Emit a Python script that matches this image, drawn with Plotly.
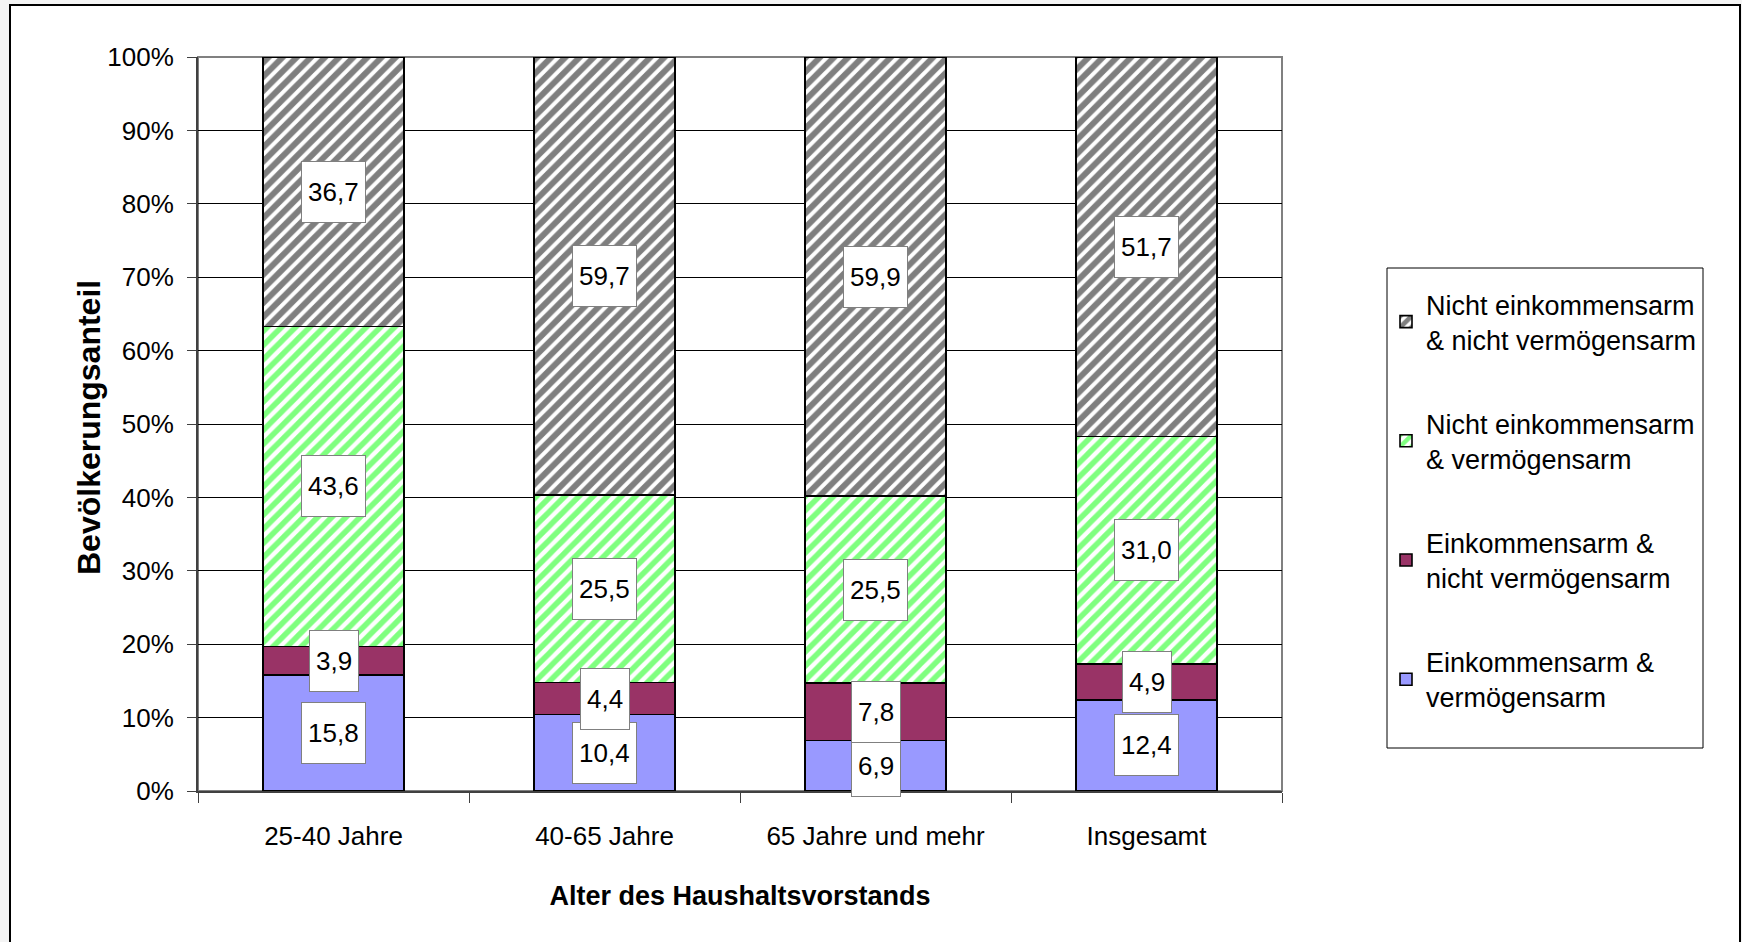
import plotly.graph_objects as go

# ---------------- data ----------------
categories = ["25-40 Jahre", "40-65 Jahre", "65 Jahre und mehr", "Insgesamt"]
ek_vk = [15.8, 10.4, 6.9, 12.4]       # Einkommensarm & vermögensarm
ek_nvk = [3.9, 4.4, 7.8, 4.9]         # Einkommensarm & nicht vermögensarm
nek_vk = [43.6, 25.5, 25.5, 31.0]     # Nicht einkommensarm & vermögensarm
nek_nvk = [36.7, 59.7, 59.9, 51.7]    # Nicht einkommensarm & nicht vermögensarm
series_names = [
    "Einkommensarm &<br>vermögensarm",
    "Einkommensarm &<br>nicht vermögensarm",
    "Nicht einkommensarm<br>& vermögensarm",
    "Nicht einkommensarm<br>& nicht vermögensarm",
]
y_tick_vals = [0, 10, 20, 30, 40, 50, 60, 70, 80, 90, 100]
y_tick_text = ["0%", "10%", "20%", "30%", "40%", "50%", "60%", "70%", "80%", "90%", "100%"]
x_title = "Alter des Haushaltsvorstands"
y_title = "Bevölkerungsanteil"

# ---------------- layout geometry (px) ----------------
W, H = 1742, 942
L, R, T, B = 198, 1282, 57, 791
pw, ph = R - L, B - T


def px_x(p):
    return (p - L) / pw


def px_y(p):
    return (B - p) / ph


FONT = "Liberation Sans, Arial, sans-serif"

series = [ek_vk, ek_nvk, nek_vk, nek_nvk]
styles = [
    dict(color="#9999ff"),
    dict(color="#993366"),
    dict(color="#ffffff", pattern=dict(shape="/", fgcolor="#00ff00", bgcolor="#ffffff",
                                       size=10, solidity=0.55, fillmode="overlay")),
    dict(color="#ffffff", pattern=dict(shape="/", fgcolor="#000000", bgcolor="#ffffff",
                                       size=10, solidity=0.6, fillmode="overlay")),
]

fig = go.Figure()
for i, (vals, name, st) in enumerate(zip(series, series_names, styles)):
    fig.add_trace(go.Bar(
        x=categories, y=vals, name=name, legendgroup=f"g{i}", legendrank=100 - i,
        marker=dict(line=dict(color="#000000", width=1.6), **st),
        width=0.52,
    ))

# value labels, positioned at the (normalized) segment centres
annotations = []
for ci, cat in enumerate(categories):
    total = sum(s[ci] for s in series)
    cum = 0.0
    for s in series:
        v = s[ci] / total * 100
        mid = cum + v / 2
        cum += v
        annotations.append(dict(
            x=cat, y=mid, xref="x", yref="y",
            text=f"{s[ci]:.1f}".replace(".", ","),
            showarrow=False, font=dict(family=FONT, size=26, color="#000000"),
            bgcolor="#ffffff", bordercolor="#808080", borderwidth=1, borderpad=6,
            height=48, valign="middle",
        ))

# y-axis title
annotations.append(dict(
    x=px_x(89), y=px_y(428), xref="paper", yref="paper", xanchor="center", yanchor="middle",
    text=f"<b>{y_title}</b>", textangle=-90, showarrow=False,
    font=dict(family=FONT, size=32, color="#000000"),
))

shapes = [
    # outer chart frame
    dict(type="rect", xref="paper", yref="paper", layer="below",
         x0=px_x(10), x1=px_x(1740), y0=px_y(960), y1=px_y(5),
         fillcolor="#ffffff", line=dict(color="#000000", width=2)),
    # plot-area border (top & right visible)
    dict(type="rect", xref="paper", yref="paper", layer="below",
         x0=0, x1=1, y0=0, y1=1, line=dict(color="#808080", width=2)),
    # legend frame
    dict(type="rect", xref="paper", yref="paper", layer="below",
         x0=px_x(1387), x1=px_x(1703), y0=px_y(748), y1=px_y(268),
         fillcolor="#ffffff", line=dict(color="#000000", width=1)),
]

fig.update_layout(
    width=W, height=H,
    margin=dict(l=L, r=W - R, t=T, b=H - B, autoexpand=False),
    paper_bgcolor="#f4f4f4", plot_bgcolor="#ffffff",
    barmode="stack", barnorm="percent",
    font=dict(family=FONT, size=26, color="#000000"),
    showlegend=True,
    legend=dict(
        x=px_x(1386), y=px_y(280), xanchor="left", yanchor="top",
        bgcolor="rgba(0,0,0,0)", borderwidth=0,
        traceorder="grouped", tracegroupgap=46,
        font=dict(family=FONT, size=27, color="#000000"),
        itemclick=False, itemdoubleclick=False,
    ),
    annotations=annotations,
    shapes=shapes,
    xaxis=dict(
        showline=True, linecolor="#404040", linewidth=2,
        ticks="outside", tickson="boundaries", ticklen=10, tickcolor="#404040", tickwidth=1,
        showgrid=False, tickfont=dict(family=FONT, size=26),
        ticklabelstandoff=21,
        title=dict(text=f"<b>{x_title}</b>", font=dict(family=FONT, size=27), standoff=36),
        fixedrange=True,
    ),
    yaxis=dict(
        range=[0, 100], tickmode="array", tickvals=y_tick_vals, ticktext=y_tick_text,
        showline=True, linecolor="#404040", linewidth=2,
        ticks="outside", ticklen=9, tickcolor="#404040", tickwidth=1,
        showgrid=True, gridcolor="#000000", gridwidth=1,
        zeroline=False, tickfont=dict(family=FONT, size=26),
        ticklabelstandoff=8,
        fixedrange=True,
    ),
)

fig.write_html(
    "out.html",
    config={"displayModeBar": False},
    post_script="document.body.style.margin='0';document.body.style.background='#f4f4f4';",
)
